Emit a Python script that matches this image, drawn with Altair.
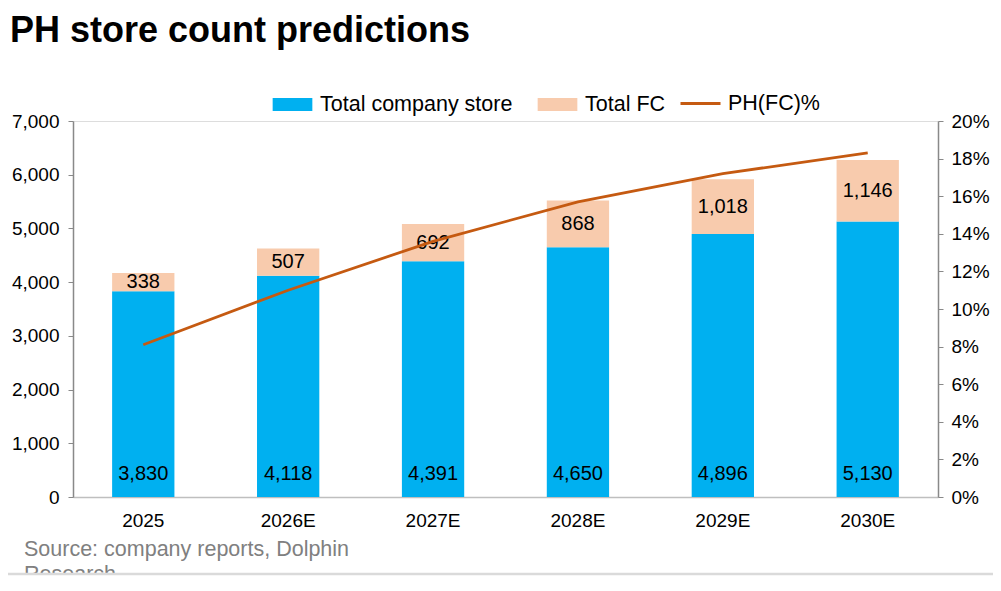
import pandas as pd
import altair as alt

# data
years = ["2025", "2026E", "2027E", "2028E", "2029E", "2030E"]
company_stores = [3830, 4118, 4391, 4650, 4896, 5130]
fc_stores = [338, 507, 692, 868, 1018, 1146]
fc_share = [0.081, 0.110, 0.136, 0.157, 0.172, 0.183]

series_names = ["Total company store", "Total FC"]
series_colors = ["#00B0F0", "#F8CBAD"]
line_name = "PH(FC)%"
line_color = "#C55A11"
source_text = ["Source: company reports, Dolphin", "Research"]

FONT = "Liberation Sans"
W, H = 865, 376

# long table for the stacked bars
rows = []
for y, c, f in zip(years, company_stores, fc_stores):
    rows.append({"year": y, "series": series_names[0], "value": c, "ord": 0})
    rows.append({"year": y, "series": series_names[1], "value": f, "ord": 1})
bars_df = pd.DataFrame(rows)

wide_df = pd.DataFrame({"year": years, "company": company_stores, "fc": fc_stores,
                        "share": fc_share, "name": line_name})

left_axis = alt.Axis(values=list(range(0, 7001, 1000)), labelExpr="format(datum.value, ',')",
                     grid=False, labelFont=FONT, labelFontSize=19, labelColor="#000000",
                     labelPadding=9, tickSize=5, tickColor="#898989",
                     domainColor="#898989", domainWidth=1.5)

x_enc = alt.X("year:N", sort=years, title=None,
              scale=alt.Scale(paddingInner=0.57, paddingOuter=0.27),
              axis=alt.Axis(labelAngle=0, labelFont=FONT, labelFontSize=19, labelColor="#000000",
                            labelPadding=14, ticks=False, domainColor="#BFBFBF", domainWidth=1.5))

bars = alt.Chart(bars_df).mark_bar().encode(
    x=x_enc,
    y=alt.Y("value:Q", stack="zero", title=None,
            scale=alt.Scale(domain=[0, 7000]), axis=left_axis),
    color=alt.Color("series:N", title=None,
                    scale=alt.Scale(domain=series_names, range=series_colors),
                    legend=alt.Legend(orient="none", direction="horizontal",
                                      legendX=206, legendY=-30,
                                      symbolType="M-1.5,-0.5H1.5V0.5H-1.5Z", symbolSize=700,
                                      symbolStrokeWidth=0, symbolOpacity=1,
                                      labelFont=FONT, labelFontSize=21.5, labelColor="#000000",
                                      labelOffset=14, labelLimit=400, columnPadding=24)),
    order=alt.Order("ord:Q"),
)

company_labels = alt.Chart(wide_df).mark_text(
    font=FONT, fontSize=20, color="#000000", dy=-23
).encode(
    x=alt.X("year:N", sort=years),
    y=alt.Y("zero:Q", axis=left_axis, title=None),
    text=alt.Text("company:Q", format=","),
).transform_calculate(zero="0")

fc_labels = alt.Chart(wide_df).transform_calculate(
    mid="datum.company + datum.fc / 2"
).mark_text(font=FONT, fontSize=20, color="#000000").encode(
    x=alt.X("year:N", sort=years),
    y=alt.Y("mid:Q", axis=left_axis, title=None),
    text=alt.Text("fc:Q", format=","),
)

left_layer = alt.layer(bars, company_labels, fc_labels)

line = alt.Chart(wide_df).mark_line(strokeWidth=2.8).encode(
    x=alt.X("year:N", sort=years),
    y=alt.Y("share:Q", title=None,
            scale=alt.Scale(domain=[0, 0.2]),
            axis=alt.Axis(orient="right", values=[i / 100 for i in range(0, 21, 2)], format=".0%",
                          grid=False, labelFont=FONT, labelFontSize=19, labelColor="#000000",
                          labelPadding=8, tickSize=5, tickColor="#898989",
                          domainColor="#898989", domainWidth=1.5)),
    stroke=alt.Stroke("name:N", title=None,
                      scale=alt.Scale(domain=[line_name], range=[line_color]),
                      legend=alt.Legend(orient="none", legendX=606, legendY=-39,
                                        symbolType="stroke", symbolSize=1600, symbolStrokeWidth=2.8,
                                        labelFont=FONT, labelFontSize=21.5, labelColor="#000000",
                                        labelOffset=6, labelLimit=400)),
)

source = alt.Chart(pd.DataFrame({"t": [source_text]})).mark_text(
    font=FONT, fontSize=21.5, color="#808080", align="left", baseline="middle", lineHeight=25
).encode(
    x=alt.value(-49),
    y=alt.value(429),
    text="t",
)

# the picture is a crop: the source line is cut by its bottom edge
blank = pd.DataFrame({"k": [0]})
cut = alt.Chart(blank).mark_rect(color="#FFFFFF").encode(
    x=alt.value(-65), x2=alt.value(W + 55), y=alt.value(453), y2=alt.value(H + 86)
)
edge = alt.Chart(blank).mark_rule(color="#DADADA", strokeWidth=2.5).encode(
    x=alt.value(-65), x2=alt.value(W + 55), y=alt.value(453)
)

chart = alt.layer(left_layer, line, source, cut, edge).resolve_scale(
    y="independent", color="independent"
).properties(
    width=W,
    height=H,
    autosize=alt.AutoSizeParams(type="none"),
    padding={"left": 65, "top": 113, "right": 55, "bottom": 86},
    title=alt.TitleParams("PH store count predictions", anchor="start", frame="group",
                          font=FONT, fontSize=36, fontWeight="bold", color="#000000",
                          dx=-63, offset=32),
).configure_view(stroke=None).configure(background="#FFFFFF")

chart.save("out.html", embed_options={"renderer": "svg", "actions": False})
